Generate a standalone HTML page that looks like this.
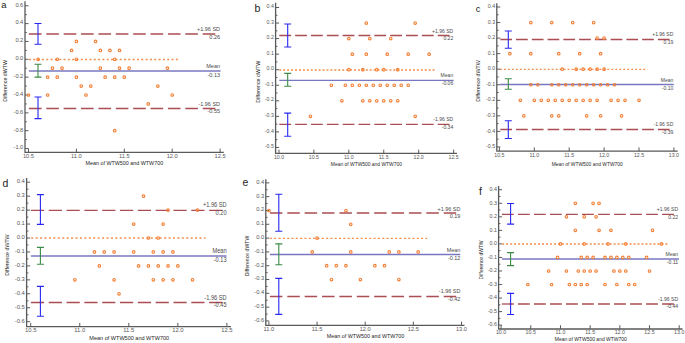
<!DOCTYPE html>
<html><head><meta charset="utf-8"><style>
html,body{margin:0;padding:0;background:#fff;}
svg{display:block;}
text{font-family:"Liberation Sans",sans-serif;}
.tl{fill:#585858;}
.rl{fill:#4a4a4a;}
.tt{fill:#262626;}
.lt{fill:#222;font-size:10.5px;}
</style></head><body>
<svg width="685" height="343" viewBox="0 0 685 343">
<rect width="685" height="343" fill="#fff"/>
<g id="pa"><path d="M25 1.2V152.45H223.8" stroke="#5A5A5A" stroke-width="1.3" fill="none"/><path d="M25 5.75h3.5M25 23.6h3.5M25 41.45h3.5M25 59.3h3.5M25 77.15h3.5M25 95h3.5M25 112.85h3.5M25 130.7h3.5M25 148.55h3.5M25 14.67h1.8M25 32.52h1.8M25 50.38h1.8M25 68.22h1.8M25 86.07h1.8M25 103.92h1.8M25 121.77h1.8M25 139.62h1.8M28.5 152.45v-3.8M76.4 152.45v-3.8M124.3 152.45v-3.8M172.2 152.45v-3.8M220.1 152.45v-3.8" stroke="#5A5A5A" stroke-width="1" fill="none"/><text x="23.3" y="6.59" text-anchor="end" class="tl" style="font-size:5.7px">0.6</text><text x="23.3" y="24.44" text-anchor="end" class="tl" style="font-size:5.7px">0.4</text><text x="23.3" y="42.29" text-anchor="end" class="tl" style="font-size:5.7px">0.2</text><text x="23.3" y="60.14" text-anchor="end" class="tl" style="font-size:5.7px">0.0</text><text x="23.3" y="77.99" text-anchor="end" class="tl" style="font-size:5.7px">-0.2</text><text x="23.3" y="95.84" text-anchor="end" class="tl" style="font-size:5.7px">-0.4</text><text x="23.3" y="113.69" text-anchor="end" class="tl" style="font-size:5.7px">-0.6</text><text x="23.3" y="131.54" text-anchor="end" class="tl" style="font-size:5.7px">-0.8</text><text x="23.3" y="149.39" text-anchor="end" class="tl" style="font-size:5.7px">-1.0</text><text x="28.5" y="158.25" text-anchor="middle" class="tl" style="font-size:5.7px">10.5</text><text x="76.4" y="158.25" text-anchor="middle" class="tl" style="font-size:5.7px">11.0</text><text x="124.3" y="158.25" text-anchor="middle" class="tl" style="font-size:5.7px">11.5</text><text x="172.2" y="158.25" text-anchor="middle" class="tl" style="font-size:5.7px">12.0</text><text x="220.1" y="158.25" text-anchor="middle" class="tl" style="font-size:5.7px">12.5</text><line x1="28.9" y1="34" x2="215.3" y2="34" stroke="#AA4E53" stroke-width="1.3" stroke-dasharray="12.6 4.78"/><line x1="28.9" y1="108.5" x2="215.3" y2="108.5" stroke="#AA4E53" stroke-width="1.3" stroke-dasharray="12.6 4.78"/><line x1="28.95" y1="59.5" x2="178.6" y2="59.5" stroke="#F48D4A" stroke-width="1.3" stroke-dasharray="2 2.32"/><line x1="28.9" y1="71" x2="220.6" y2="71" stroke="#7878C0" stroke-width="1.3"/><path d="M38 23.5V44.3M34.5 23.5h7M34.5 44.3h7" stroke="#2828F0" stroke-width="1.1" fill="none"/><path d="M38 97V118.6M34.5 97h7M34.5 118.6h7" stroke="#2828F0" stroke-width="1.1" fill="none"/><path d="M38 64.3V77.1M34.5 64.3h7M34.5 77.1h7" stroke="#3A8A45" stroke-width="1.1" fill="none"/><g fill="none" stroke="#F37F35" stroke-width="1.1"><circle cx="28.5" cy="95" r="1.3"/><circle cx="38.08" cy="59.3" r="1.3"/><circle cx="47.66" cy="77.15" r="1.3"/><circle cx="47.66" cy="95" r="1.3"/><circle cx="52.45" cy="68.22" r="1.3"/><circle cx="57.24" cy="59.3" r="1.3"/><circle cx="57.24" cy="77.15" r="1.3"/><circle cx="62.03" cy="68.22" r="1.3"/><circle cx="71.61" cy="50.38" r="1.3"/><circle cx="76.4" cy="41.45" r="1.3"/><circle cx="76.4" cy="59.3" r="1.3"/><circle cx="76.4" cy="77.15" r="1.3"/><circle cx="81.19" cy="86.07" r="1.3"/><circle cx="85.98" cy="95" r="1.3"/><circle cx="90.77" cy="86.07" r="1.3"/><circle cx="95.56" cy="41.45" r="1.3"/><circle cx="100.35" cy="50.38" r="1.3"/><circle cx="100.35" cy="68.22" r="1.3"/><circle cx="105.14" cy="77.15" r="1.3"/><circle cx="109.93" cy="50.38" r="1.3"/><circle cx="114.72" cy="59.3" r="1.3"/><circle cx="114.72" cy="77.15" r="1.3"/><circle cx="114.72" cy="130.7" r="1.3"/><circle cx="119.51" cy="50.38" r="1.3"/><circle cx="119.51" cy="68.22" r="1.3"/><circle cx="124.3" cy="77.15" r="1.3"/><circle cx="129.09" cy="68.22" r="1.3"/><circle cx="148.25" cy="103.92" r="1.3"/><circle cx="157.83" cy="86.07" r="1.3"/><circle cx="167.41" cy="68.22" r="1.3"/><circle cx="172.2" cy="95" r="1.3"/></g><text transform="matrix(0.89 0 0 1 220 31.31)" text-anchor="end" class="rl" style="font-size:6.16px">+1.96 SD</text><text transform="matrix(0.89 0 0 1 220 39.01)" text-anchor="end" class="rl" style="font-size:6.16px">0.26</text><text transform="matrix(0.89 0 0 1 220 68.11)" text-anchor="end" class="rl" style="font-size:6.16px">Mean</text><text transform="matrix(0.89 0 0 1 220 76.61)" text-anchor="end" class="rl" style="font-size:6.16px">-0.13</text><text transform="matrix(0.89 0 0 1 220 105.71)" text-anchor="end" class="rl" style="font-size:6.16px">-1.96 SD</text><text transform="matrix(0.89 0 0 1 220 113.21)" text-anchor="end" class="rl" style="font-size:6.16px">-0.55</text><text transform="matrix(0.89 0 0 1 124.3 165.2)" text-anchor="middle" class="tt" style="font-size:6.05px">Mean of WTW500 and WTW700</text><text transform="translate(7.1,80.85) rotate(-90)" text-anchor="middle" class="tt" style="font-size:5.32px">Difference dWTW</text><text x="1.3" y="8.1" class="lt" style="font-size:9.4px">a</text></g><g id="pb"><path d="M275.6 2.7V153.45H457" stroke="#5A5A5A" stroke-width="1.3" fill="none"/><path d="M275.6 7.5h3.5M275.6 23.05h3.5M275.6 38.6h3.5M275.6 54.15h3.5M275.6 69.7h3.5M275.6 85.25h3.5M275.6 100.8h3.5M275.6 116.35h3.5M275.6 131.9h3.5M275.6 147.45h3.5M275.6 15.28h1.8M275.6 30.83h1.8M275.6 46.38h1.8M275.6 61.93h1.8M275.6 77.48h1.8M275.6 93.03h1.8M275.6 108.58h1.8M275.6 124.12h1.8M275.6 139.68h1.8M279 153.45v-3.8M313.92 153.45v-3.8M348.84 153.45v-3.8M383.76 153.45v-3.8M418.68 153.45v-3.8M453.6 153.45v-3.8" stroke="#5A5A5A" stroke-width="1" fill="none"/><text x="273.9" y="8.18" text-anchor="end" class="tl" style="font-size:5.25px">0.4</text><text x="273.9" y="23.73" text-anchor="end" class="tl" style="font-size:5.25px">0.3</text><text x="273.9" y="39.28" text-anchor="end" class="tl" style="font-size:5.25px">0.2</text><text x="273.9" y="54.83" text-anchor="end" class="tl" style="font-size:5.25px">0.1</text><text x="273.9" y="70.38" text-anchor="end" class="tl" style="font-size:5.25px">0.0</text><text x="273.9" y="85.93" text-anchor="end" class="tl" style="font-size:5.25px">-0.1</text><text x="273.9" y="101.48" text-anchor="end" class="tl" style="font-size:5.25px">-0.2</text><text x="273.9" y="117.03" text-anchor="end" class="tl" style="font-size:5.25px">-0.3</text><text x="273.9" y="132.58" text-anchor="end" class="tl" style="font-size:5.25px">-0.4</text><text x="273.9" y="148.13" text-anchor="end" class="tl" style="font-size:5.25px">-0.5</text><text x="279" y="158.7" text-anchor="middle" class="tl" style="font-size:5.25px">10.0</text><text x="313.92" y="158.7" text-anchor="middle" class="tl" style="font-size:5.25px">10.5</text><text x="348.84" y="158.7" text-anchor="middle" class="tl" style="font-size:5.25px">11.0</text><text x="383.76" y="158.7" text-anchor="middle" class="tl" style="font-size:5.25px">11.5</text><text x="418.68" y="158.7" text-anchor="middle" class="tl" style="font-size:5.25px">12.0</text><text x="453.6" y="158.7" text-anchor="middle" class="tl" style="font-size:5.25px">12.5</text><line x1="279.3" y1="35.5" x2="449.5" y2="35.5" stroke="#AA4E53" stroke-width="1.3" stroke-dasharray="11.8 4.04"/><line x1="279.3" y1="124.4" x2="449.5" y2="124.4" stroke="#AA4E53" stroke-width="1.3" stroke-dasharray="11.8 4.04"/><line x1="279.3" y1="70" x2="435.8" y2="70" stroke="#F48D4A" stroke-width="1.3" stroke-dasharray="2 1.93"/><line x1="279.3" y1="80.35" x2="453.6" y2="80.35" stroke="#7878C0" stroke-width="1.3"/><path d="M287.7 24V47M284.2 24h7M284.2 47h7" stroke="#2828F0" stroke-width="1.1" fill="none"/><path d="M287.7 113.1V136.2M284.2 113.1h7M284.2 136.2h7" stroke="#2828F0" stroke-width="1.1" fill="none"/><path d="M287.7 73.4V86.3M284.2 73.4h7M284.2 86.3h7" stroke="#3A8A45" stroke-width="1.1" fill="none"/><g fill="none" stroke="#F37F35" stroke-width="1.1"><circle cx="366.3" cy="23.05" r="1.3"/><circle cx="415.19" cy="23.05" r="1.3"/><circle cx="348.84" cy="38.6" r="1.3"/><circle cx="369.79" cy="38.6" r="1.3"/><circle cx="390.74" cy="38.6" r="1.3"/><circle cx="352.33" cy="54.15" r="1.3"/><circle cx="366.3" cy="54.15" r="1.3"/><circle cx="387.25" cy="54.15" r="1.3"/><circle cx="408.2" cy="54.15" r="1.3"/><circle cx="429.16" cy="54.15" r="1.3"/><circle cx="348.84" cy="69.7" r="1.3"/><circle cx="362.81" cy="69.7" r="1.3"/><circle cx="376.78" cy="69.7" r="1.3"/><circle cx="383.76" cy="69.7" r="1.3"/><circle cx="397.73" cy="69.7" r="1.3"/><circle cx="331.38" cy="85.25" r="1.3"/><circle cx="345.35" cy="85.25" r="1.3"/><circle cx="352.33" cy="85.25" r="1.3"/><circle cx="359.32" cy="85.25" r="1.3"/><circle cx="366.3" cy="85.25" r="1.3"/><circle cx="373.28" cy="85.25" r="1.3"/><circle cx="380.27" cy="85.25" r="1.3"/><circle cx="387.25" cy="85.25" r="1.3"/><circle cx="394.24" cy="85.25" r="1.3"/><circle cx="401.22" cy="85.25" r="1.3"/><circle cx="408.2" cy="85.25" r="1.3"/><circle cx="341.86" cy="100.8" r="1.3"/><circle cx="362.81" cy="100.8" r="1.3"/><circle cx="369.79" cy="100.8" r="1.3"/><circle cx="376.78" cy="100.8" r="1.3"/><circle cx="383.76" cy="100.8" r="1.3"/><circle cx="390.74" cy="100.8" r="1.3"/><circle cx="397.73" cy="100.8" r="1.3"/><circle cx="310.43" cy="116.35" r="1.3"/><circle cx="415.19" cy="116.35" r="1.3"/></g><text transform="matrix(0.89 0 0 1 453.2 32.52)" text-anchor="end" class="rl" style="font-size:5.66px">+1.96 SD</text><text transform="matrix(0.89 0 0 1 453.2 40.42)" text-anchor="end" class="rl" style="font-size:5.66px">0.22</text><text transform="matrix(0.89 0 0 1 453.2 77.32)" text-anchor="end" class="rl" style="font-size:5.66px">Mean</text><text transform="matrix(0.89 0 0 1 453.2 85.42)" text-anchor="end" class="rl" style="font-size:5.66px">-0.06</text><text transform="matrix(0.89 0 0 1 453.2 121.22)" text-anchor="end" class="rl" style="font-size:5.66px">-1.96 SD</text><text transform="matrix(0.89 0 0 1 453.2 129.32)" text-anchor="end" class="rl" style="font-size:5.66px">-0.34</text><text transform="matrix(0.89 0 0 1 366.4 165.9)" text-anchor="middle" class="tt" style="font-size:5.54px">Mean of WTW500 and WTW700</text><text transform="translate(260.21,81.65) rotate(-90)" text-anchor="middle" class="tt" style="font-size:5.35px">Difference dWTW</text><text x="254.5" y="11.7" class="lt" style="font-size:10.5px">b</text></g><g id="pc"><path d="M496.8 3.3V151.2H677.7" stroke="#5A5A5A" stroke-width="1.3" fill="none"/><path d="M496.8 7h3.5M496.8 22.55h3.5M496.8 38.1h3.5M496.8 53.65h3.5M496.8 69.2h3.5M496.8 84.75h3.5M496.8 100.3h3.5M496.8 115.85h3.5M496.8 131.4h3.5M496.8 146.95h3.5M496.8 14.78h1.8M496.8 30.33h1.8M496.8 45.88h1.8M496.8 61.43h1.8M496.8 76.98h1.8M496.8 92.53h1.8M496.8 108.08h1.8M496.8 123.62h1.8M496.8 139.18h1.8M499.4 151.2v-3.8M534.3 151.2v-3.8M569.2 151.2v-3.8M604.1 151.2v-3.8M639 151.2v-3.8M673.9 151.2v-3.8" stroke="#5A5A5A" stroke-width="1" fill="none"/><text x="495.1" y="8.18" text-anchor="end" class="tl" style="font-size:5.25px">0.4</text><text x="495.1" y="23.73" text-anchor="end" class="tl" style="font-size:5.25px">0.3</text><text x="495.1" y="39.28" text-anchor="end" class="tl" style="font-size:5.25px">0.2</text><text x="495.1" y="54.83" text-anchor="end" class="tl" style="font-size:5.25px">0.1</text><text x="495.1" y="70.38" text-anchor="end" class="tl" style="font-size:5.25px">0.0</text><text x="495.1" y="85.93" text-anchor="end" class="tl" style="font-size:5.25px">-0.1</text><text x="495.1" y="101.48" text-anchor="end" class="tl" style="font-size:5.25px">-0.2</text><text x="495.1" y="117.03" text-anchor="end" class="tl" style="font-size:5.25px">-0.3</text><text x="495.1" y="132.58" text-anchor="end" class="tl" style="font-size:5.25px">-0.4</text><text x="495.1" y="148.13" text-anchor="end" class="tl" style="font-size:5.25px">-0.5</text><text x="499.4" y="156.6" text-anchor="middle" class="tl" style="font-size:5.25px">10.5</text><text x="534.3" y="156.6" text-anchor="middle" class="tl" style="font-size:5.25px">11.0</text><text x="569.2" y="156.6" text-anchor="middle" class="tl" style="font-size:5.25px">11.5</text><text x="604.1" y="156.6" text-anchor="middle" class="tl" style="font-size:5.25px">12.0</text><text x="639" y="156.6" text-anchor="middle" class="tl" style="font-size:5.25px">12.5</text><text x="673.9" y="156.6" text-anchor="middle" class="tl" style="font-size:5.25px">13.0</text><line x1="500.3" y1="39.5" x2="669.6" y2="39.5" stroke="#AA4E53" stroke-width="1.3" stroke-dasharray="11.7 4.06"/><line x1="500.3" y1="129.5" x2="669.6" y2="129.5" stroke="#AA4E53" stroke-width="1.3" stroke-dasharray="11.7 4.06"/><line x1="499.9" y1="69.4" x2="647.3" y2="69.4" stroke="#F48D4A" stroke-width="1.3" stroke-dasharray="2 1.98"/><line x1="500.3" y1="84.5" x2="673.8" y2="84.5" stroke="#7878C0" stroke-width="1.3"/><path d="M508.3 31V48.2M504.8 31h7M504.8 48.2h7" stroke="#2828F0" stroke-width="1.1" fill="none"/><path d="M508.3 120.8V138.5M504.8 120.8h7M504.8 138.5h7" stroke="#2828F0" stroke-width="1.1" fill="none"/><path d="M508.3 78.8V89.3M504.8 78.8h7M504.8 89.3h7" stroke="#3A8A45" stroke-width="1.1" fill="none"/><g fill="none" stroke="#F37F35" stroke-width="1.1"><circle cx="530.81" cy="22.55" r="1.3"/><circle cx="551.75" cy="22.55" r="1.3"/><circle cx="572.69" cy="22.55" r="1.3"/><circle cx="593.63" cy="22.55" r="1.3"/><circle cx="597.12" cy="38.1" r="1.3"/><circle cx="604.1" cy="38.1" r="1.3"/><circle cx="509.87" cy="53.65" r="1.3"/><circle cx="530.81" cy="53.65" r="1.3"/><circle cx="558.73" cy="53.65" r="1.3"/><circle cx="579.67" cy="53.65" r="1.3"/><circle cx="600.61" cy="53.65" r="1.3"/><circle cx="562.22" cy="69.2" r="1.3"/><circle cx="576.18" cy="69.2" r="1.3"/><circle cx="583.16" cy="69.2" r="1.3"/><circle cx="590.14" cy="69.2" r="1.3"/><circle cx="597.12" cy="69.2" r="1.3"/><circle cx="604.1" cy="69.2" r="1.3"/><circle cx="530.81" cy="84.75" r="1.3"/><circle cx="537.79" cy="84.75" r="1.3"/><circle cx="551.75" cy="84.75" r="1.3"/><circle cx="558.73" cy="84.75" r="1.3"/><circle cx="565.71" cy="84.75" r="1.3"/><circle cx="572.69" cy="84.75" r="1.3"/><circle cx="579.67" cy="84.75" r="1.3"/><circle cx="586.65" cy="84.75" r="1.3"/><circle cx="593.63" cy="84.75" r="1.3"/><circle cx="600.61" cy="84.75" r="1.3"/><circle cx="607.59" cy="84.75" r="1.3"/><circle cx="614.57" cy="84.75" r="1.3"/><circle cx="520.34" cy="100.3" r="1.3"/><circle cx="534.3" cy="100.3" r="1.3"/><circle cx="541.28" cy="100.3" r="1.3"/><circle cx="548.26" cy="100.3" r="1.3"/><circle cx="555.24" cy="100.3" r="1.3"/><circle cx="562.22" cy="100.3" r="1.3"/><circle cx="569.2" cy="100.3" r="1.3"/><circle cx="576.18" cy="100.3" r="1.3"/><circle cx="583.16" cy="100.3" r="1.3"/><circle cx="590.14" cy="100.3" r="1.3"/><circle cx="597.12" cy="100.3" r="1.3"/><circle cx="611.08" cy="100.3" r="1.3"/><circle cx="618.06" cy="100.3" r="1.3"/><circle cx="625.04" cy="100.3" r="1.3"/><circle cx="639" cy="100.3" r="1.3"/><circle cx="523.83" cy="115.85" r="1.3"/><circle cx="551.75" cy="115.85" r="1.3"/><circle cx="558.73" cy="115.85" r="1.3"/><circle cx="586.65" cy="115.85" r="1.3"/><circle cx="600.61" cy="115.85" r="1.3"/><circle cx="621.55" cy="115.85" r="1.3"/></g><text transform="matrix(0.89 0 0 1 673.3 36.22)" text-anchor="end" class="rl" style="font-size:5.66px">+1.96 SD</text><text transform="matrix(0.89 0 0 1 673.3 44.32)" text-anchor="end" class="rl" style="font-size:5.66px">0.19</text><text transform="matrix(0.89 0 0 1 673.3 81.62)" text-anchor="end" class="rl" style="font-size:5.66px">Mean</text><text transform="matrix(0.89 0 0 1 673.3 90.22)" text-anchor="end" class="rl" style="font-size:5.66px">-0.10</text><text transform="matrix(0.89 0 0 1 673.3 126.32)" text-anchor="end" class="rl" style="font-size:5.66px">-1.96 SD</text><text transform="matrix(0.89 0 0 1 673.3 133.92)" text-anchor="end" class="rl" style="font-size:5.66px">-0.39</text><text transform="matrix(0.89 0 0 1 587.2 165.5)" text-anchor="middle" class="tt" style="font-size:5.54px">Mean of WTW500 and WTW700</text><text transform="translate(480.19,81.05) rotate(-90)" text-anchor="middle" class="tt" style="font-size:5.27px">Difference dWTW</text><text x="475.8" y="12.4" class="lt" style="font-size:9.2px">c</text></g><g id="pd"><path d="M26.6 178.1V326.7H231" stroke="#5A5A5A" stroke-width="1.3" fill="none"/><path d="M26.6 182.2h3.5M26.6 196.15h3.5M26.6 210.1h3.5M26.6 224.05h3.5M26.6 238h3.5M26.6 251.95h3.5M26.6 265.9h3.5M26.6 279.85h3.5M26.6 293.8h3.5M26.6 307.75h3.5M26.6 321.7h3.5M26.6 189.18h1.8M26.6 203.12h1.8M26.6 217.07h1.8M26.6 231.03h1.8M26.6 244.97h1.8M26.6 258.93h1.8M26.6 272.88h1.8M26.6 286.82h1.8M26.6 300.77h1.8M26.6 314.73h1.8M30.7 326.7v-3.8M79.75 326.7v-3.8M128.8 326.7v-3.8M177.85 326.7v-3.8M226.9 326.7v-3.8" stroke="#5A5A5A" stroke-width="1" fill="none"/><text x="24.9" y="183.1" text-anchor="end" class="tl" style="font-size:5.859999999999999px">0.4</text><text x="24.9" y="197.05" text-anchor="end" class="tl" style="font-size:5.859999999999999px">0.3</text><text x="24.9" y="211" text-anchor="end" class="tl" style="font-size:5.859999999999999px">0.2</text><text x="24.9" y="224.95" text-anchor="end" class="tl" style="font-size:5.859999999999999px">0.1</text><text x="24.9" y="238.9" text-anchor="end" class="tl" style="font-size:5.859999999999999px">0.0</text><text x="24.9" y="252.85" text-anchor="end" class="tl" style="font-size:5.859999999999999px">-0.1</text><text x="24.9" y="266.8" text-anchor="end" class="tl" style="font-size:5.859999999999999px">-0.2</text><text x="24.9" y="280.75" text-anchor="end" class="tl" style="font-size:5.859999999999999px">-0.3</text><text x="24.9" y="294.7" text-anchor="end" class="tl" style="font-size:5.859999999999999px">-0.4</text><text x="24.9" y="308.65" text-anchor="end" class="tl" style="font-size:5.859999999999999px">-0.5</text><text x="24.9" y="322.6" text-anchor="end" class="tl" style="font-size:5.859999999999999px">-0.6</text><text x="30.7" y="332.05" text-anchor="middle" class="tl" style="font-size:5.859999999999999px">10.5</text><text x="79.75" y="332.05" text-anchor="middle" class="tl" style="font-size:5.859999999999999px">11.0</text><text x="128.8" y="332.05" text-anchor="middle" class="tl" style="font-size:5.859999999999999px">11.5</text><text x="177.85" y="332.05" text-anchor="middle" class="tl" style="font-size:5.859999999999999px">12.0</text><text x="226.9" y="332.05" text-anchor="middle" class="tl" style="font-size:5.859999999999999px">12.5</text><line x1="30.9" y1="210.3" x2="222.3" y2="210.3" stroke="#AA4E53" stroke-width="1.3" stroke-dasharray="13.2 4.62"/><line x1="30.9" y1="302.5" x2="222.3" y2="302.5" stroke="#AA4E53" stroke-width="1.3" stroke-dasharray="13.2 4.62"/><line x1="31.2" y1="238" x2="205.5" y2="238" stroke="#F48D4A" stroke-width="1.3" stroke-dasharray="2 2.43"/><line x1="30.9" y1="256" x2="226.5" y2="256" stroke="#7878C0" stroke-width="1.3"/><path d="M40.4 194.6V224.4M36.9 194.6h7M36.9 224.4h7" stroke="#2828F0" stroke-width="1.1" fill="none"/><path d="M40.4 286.4V316.3M36.9 286.4h7M36.9 316.3h7" stroke="#2828F0" stroke-width="1.1" fill="none"/><path d="M40.4 247.4V264.2M36.9 247.4h7M36.9 264.2h7" stroke="#3A8A45" stroke-width="1.1" fill="none"/><g fill="none" stroke="#F37F35" stroke-width="1.1"><circle cx="143.52" cy="196.15" r="1.3"/><circle cx="168.04" cy="210.1" r="1.3"/><circle cx="197.47" cy="210.1" r="1.3"/><circle cx="133.71" cy="224.05" r="1.3"/><circle cx="163.13" cy="224.05" r="1.3"/><circle cx="148.42" cy="238" r="1.3"/><circle cx="158.23" cy="238" r="1.3"/><circle cx="94.47" cy="251.95" r="1.3"/><circle cx="104.27" cy="251.95" r="1.3"/><circle cx="114.08" cy="251.95" r="1.3"/><circle cx="133.71" cy="251.95" r="1.3"/><circle cx="153.32" cy="251.95" r="1.3"/><circle cx="163.13" cy="251.95" r="1.3"/><circle cx="172.94" cy="251.95" r="1.3"/><circle cx="99.37" cy="265.9" r="1.3"/><circle cx="138.61" cy="265.9" r="1.3"/><circle cx="148.42" cy="265.9" r="1.3"/><circle cx="158.23" cy="265.9" r="1.3"/><circle cx="168.04" cy="265.9" r="1.3"/><circle cx="177.85" cy="265.9" r="1.3"/><circle cx="74.84" cy="279.85" r="1.3"/><circle cx="114.08" cy="279.85" r="1.3"/><circle cx="153.32" cy="279.85" r="1.3"/><circle cx="163.13" cy="279.85" r="1.3"/><circle cx="172.94" cy="279.85" r="1.3"/><circle cx="192.57" cy="279.85" r="1.3"/><circle cx="118.99" cy="293.8" r="1.3"/></g><text transform="matrix(0.89 0 0 1 226.6 206.57)" text-anchor="end" class="rl" style="font-size:6.34px">+1.96 SD</text><text transform="matrix(0.89 0 0 1 226.6 214.87)" text-anchor="end" class="rl" style="font-size:6.34px">0.20</text><text transform="matrix(0.89 0 0 1 226.6 252.77)" text-anchor="end" class="rl" style="font-size:6.34px">Mean</text><text transform="matrix(0.89 0 0 1 226.6 262.17)" text-anchor="end" class="rl" style="font-size:6.34px">-0.13</text><text transform="matrix(0.89 0 0 1 226.6 299.57)" text-anchor="end" class="rl" style="font-size:6.34px">-1.96 SD</text><text transform="matrix(0.89 0 0 1 226.6 307.27)" text-anchor="end" class="rl" style="font-size:6.34px">-0.45</text><text transform="matrix(0.89 0 0 1 129.2 339.7)" text-anchor="middle" class="tt" style="font-size:6.23px">Mean of WTW500 and WTW700</text><text transform="translate(8.74,255.15) rotate(-90)" text-anchor="middle" class="tt" style="font-size:5.27px">Difference dWTW</text><text x="2.5" y="186.6" class="lt" style="font-size:10.5px">d</text></g><g id="pe"><path d="M265.8 179.3V325.45H464.5" stroke="#5A5A5A" stroke-width="1.3" fill="none"/><path d="M265.8 182.86h3.5M265.8 196.67h3.5M265.8 210.48h3.5M265.8 224.29h3.5M265.8 238.1h3.5M265.8 251.91h3.5M265.8 265.72h3.5M265.8 279.53h3.5M265.8 293.34h3.5M265.8 307.15h3.5M265.8 320.96h3.5M265.8 189.76h1.8M265.8 203.57h1.8M265.8 217.38h1.8M265.8 231.19h1.8M265.8 245h1.8M265.8 258.81h1.8M265.8 272.62h1.8M265.8 286.44h1.8M265.8 300.25h1.8M265.8 314.06h1.8M268.9 325.45v-3.8M317.05 325.45v-3.8M365.2 325.45v-3.8M413.35 325.45v-3.8M461.5 325.45v-3.8" stroke="#5A5A5A" stroke-width="1" fill="none"/><text x="264.1" y="183.7" text-anchor="end" class="tl" style="font-size:5.6899999999999995px">0.4</text><text x="264.1" y="197.51" text-anchor="end" class="tl" style="font-size:5.6899999999999995px">0.3</text><text x="264.1" y="211.32" text-anchor="end" class="tl" style="font-size:5.6899999999999995px">0.2</text><text x="264.1" y="225.13" text-anchor="end" class="tl" style="font-size:5.6899999999999995px">0.1</text><text x="264.1" y="238.94" text-anchor="end" class="tl" style="font-size:5.6899999999999995px">0.0</text><text x="264.1" y="252.75" text-anchor="end" class="tl" style="font-size:5.6899999999999995px">-0.1</text><text x="264.1" y="266.56" text-anchor="end" class="tl" style="font-size:5.6899999999999995px">-0.2</text><text x="264.1" y="280.37" text-anchor="end" class="tl" style="font-size:5.6899999999999995px">-0.3</text><text x="264.1" y="294.18" text-anchor="end" class="tl" style="font-size:5.6899999999999995px">-0.4</text><text x="264.1" y="307.99" text-anchor="end" class="tl" style="font-size:5.6899999999999995px">-0.5</text><text x="264.1" y="321.8" text-anchor="end" class="tl" style="font-size:5.6899999999999995px">-0.6</text><text x="268.9" y="330.5" text-anchor="middle" class="tl" style="font-size:5.6899999999999995px">11.0</text><text x="317.05" y="330.5" text-anchor="middle" class="tl" style="font-size:5.6899999999999995px">11.5</text><text x="365.2" y="330.5" text-anchor="middle" class="tl" style="font-size:5.6899999999999995px">12.0</text><text x="413.35" y="330.5" text-anchor="middle" class="tl" style="font-size:5.6899999999999995px">12.5</text><text x="461.5" y="330.5" text-anchor="middle" class="tl" style="font-size:5.6899999999999995px">13.0</text><line x1="269.9" y1="213" x2="456.2" y2="213" stroke="#AA4E53" stroke-width="1.3" stroke-dasharray="12.5 4.88"/><line x1="269.9" y1="296.5" x2="456.2" y2="296.5" stroke="#AA4E53" stroke-width="1.3" stroke-dasharray="12.5 4.88"/><line x1="269.9" y1="238.45" x2="427.2" y2="238.45" stroke="#F48D4A" stroke-width="1.3" stroke-dasharray="2 2.32"/><line x1="269.9" y1="254.5" x2="460.2" y2="254.5" stroke="#7878C0" stroke-width="1.3"/><path d="M278.8 194.2V231.2M275.3 194.2h7M275.3 231.2h7" stroke="#2828F0" stroke-width="1.1" fill="none"/><path d="M278.8 278.4V314.4M275.3 278.4h7M275.3 314.4h7" stroke="#2828F0" stroke-width="1.1" fill="none"/><path d="M278.8 243.9V264.8M275.3 243.9h7M275.3 264.8h7" stroke="#3A8A45" stroke-width="1.1" fill="none"/><g fill="none" stroke="#F37F35" stroke-width="1.1"><circle cx="268.9" cy="210.48" r="1.3"/><circle cx="345.94" cy="210.48" r="1.3"/><circle cx="350.75" cy="224.29" r="1.3"/><circle cx="317.05" cy="238.1" r="1.3"/><circle cx="312.23" cy="251.91" r="1.3"/><circle cx="350.75" cy="251.91" r="1.3"/><circle cx="389.27" cy="251.91" r="1.3"/><circle cx="398.9" cy="251.91" r="1.3"/><circle cx="418.17" cy="251.91" r="1.3"/><circle cx="326.68" cy="265.72" r="1.3"/><circle cx="336.31" cy="265.72" r="1.3"/><circle cx="345.94" cy="265.72" r="1.3"/><circle cx="374.83" cy="265.72" r="1.3"/><circle cx="384.46" cy="265.72" r="1.3"/><circle cx="331.5" cy="279.53" r="1.3"/><circle cx="360.38" cy="279.53" r="1.3"/><circle cx="398.9" cy="279.53" r="1.3"/></g><text transform="matrix(0.89 0 0 1 460.4 210.5)" text-anchor="end" class="rl" style="font-size:6.15px">+1.96 SD</text><text transform="matrix(0.89 0 0 1 460.4 217.7)" text-anchor="end" class="rl" style="font-size:6.15px">0.19</text><text transform="matrix(0.89 0 0 1 460.4 251.6)" text-anchor="end" class="rl" style="font-size:6.15px">Mean</text><text transform="matrix(0.89 0 0 1 460.4 260)" text-anchor="end" class="rl" style="font-size:6.15px">-0.12</text><text transform="matrix(0.89 0 0 1 460.4 293.2)" text-anchor="end" class="rl" style="font-size:6.15px">-1.96 SD</text><text transform="matrix(0.89 0 0 1 460.4 301.1)" text-anchor="end" class="rl" style="font-size:6.15px">-0.42</text><text transform="matrix(0.89 0 0 1 365.5 337.8)" text-anchor="middle" class="tt" style="font-size:6.04px">Mean of WTW500 and WTW700</text><text transform="translate(249.35,256) rotate(-90)" text-anchor="middle" class="tt" style="font-size:5.15px">Difference dWTW</text><text x="242.6" y="185.8" class="lt" style="font-size:10.5px">e</text></g><g id="pf"><path d="M498.6 186V329H682.6" stroke="#5A5A5A" stroke-width="1.3" fill="none"/><path d="M498.6 189.74h3.5M498.6 203.28h3.5M498.6 216.82h3.5M498.6 230.36h3.5M498.6 243.9h3.5M498.6 257.44h3.5M498.6 270.98h3.5M498.6 284.52h3.5M498.6 298.06h3.5M498.6 311.6h3.5M498.6 325.14h3.5M498.6 196.51h1.8M498.6 210.05h1.8M498.6 223.59h1.8M498.6 237.13h1.8M498.6 250.67h1.8M498.6 264.21h1.8M498.6 277.75h1.8M498.6 291.29h1.8M498.6 304.83h1.8M498.6 318.37h1.8M501.1 329v-3.8M530.78 329v-3.8M560.47 329v-3.8M590.15 329v-3.8M619.84 329v-3.8M649.52 329v-3.8M679.21 329v-3.8" stroke="#5A5A5A" stroke-width="1" fill="none"/><text x="496.9" y="191.05" text-anchor="end" class="tl" style="font-size:5.33px">0.4</text><text x="496.9" y="204.59" text-anchor="end" class="tl" style="font-size:5.33px">0.3</text><text x="496.9" y="218.13" text-anchor="end" class="tl" style="font-size:5.33px">0.2</text><text x="496.9" y="231.67" text-anchor="end" class="tl" style="font-size:5.33px">0.1</text><text x="496.9" y="245.21" text-anchor="end" class="tl" style="font-size:5.33px">0.0</text><text x="496.9" y="258.75" text-anchor="end" class="tl" style="font-size:5.33px">-0.1</text><text x="496.9" y="272.29" text-anchor="end" class="tl" style="font-size:5.33px">-0.2</text><text x="496.9" y="285.83" text-anchor="end" class="tl" style="font-size:5.33px">-0.3</text><text x="496.9" y="299.37" text-anchor="end" class="tl" style="font-size:5.33px">-0.4</text><text x="496.9" y="312.91" text-anchor="end" class="tl" style="font-size:5.33px">-0.5</text><text x="496.9" y="326.45" text-anchor="end" class="tl" style="font-size:5.33px">-0.6</text><text x="501.1" y="334.45" text-anchor="middle" class="tl" style="font-size:5.33px">10.0</text><text x="530.78" y="334.45" text-anchor="middle" class="tl" style="font-size:5.33px">10.5</text><text x="560.47" y="334.45" text-anchor="middle" class="tl" style="font-size:5.33px">11.0</text><text x="590.15" y="334.45" text-anchor="middle" class="tl" style="font-size:5.33px">11.5</text><text x="619.84" y="334.45" text-anchor="middle" class="tl" style="font-size:5.33px">12.0</text><text x="649.52" y="334.45" text-anchor="middle" class="tl" style="font-size:5.33px">12.5</text><text x="679.21" y="334.45" text-anchor="middle" class="tl" style="font-size:5.33px">13.0</text><line x1="501.9" y1="214.4" x2="673.9" y2="214.4" stroke="#AA4E53" stroke-width="1.3" stroke-dasharray="11.8 4.22"/><line x1="501.9" y1="304" x2="673.9" y2="304" stroke="#AA4E53" stroke-width="1.3" stroke-dasharray="11.8 4.22"/><line x1="502.2" y1="244" x2="668.2" y2="244" stroke="#F48D4A" stroke-width="1.3" stroke-dasharray="2 1.98"/><line x1="501.9" y1="259" x2="679" y2="259" stroke="#7878C0" stroke-width="1.3"/><path d="M510.6 203.5V224.1M507.1 203.5h7M507.1 224.1h7" stroke="#2828F0" stroke-width="1.1" fill="none"/><path d="M510.6 293.4V314.5M507.1 293.4h7M507.1 314.5h7" stroke="#2828F0" stroke-width="1.1" fill="none"/><path d="M510.6 252.6V265.6M507.1 252.6h7M507.1 265.6h7" stroke="#3A8A45" stroke-width="1.1" fill="none"/><g fill="none" stroke="#F37F35" stroke-width="1.1"><circle cx="575.31" cy="203.28" r="1.3"/><circle cx="593.12" cy="203.28" r="1.3"/><circle cx="599.06" cy="203.28" r="1.3"/><circle cx="566.41" cy="216.82" r="1.3"/><circle cx="584.22" cy="216.82" r="1.3"/><circle cx="596.09" cy="216.82" r="1.3"/><circle cx="575.31" cy="230.36" r="1.3"/><circle cx="599.06" cy="230.36" r="1.3"/><circle cx="610.93" cy="230.36" r="1.3"/><circle cx="652.49" cy="230.36" r="1.3"/><circle cx="560.47" cy="243.9" r="1.3"/><circle cx="584.22" cy="243.9" r="1.3"/><circle cx="607.97" cy="243.9" r="1.3"/><circle cx="625.78" cy="243.9" r="1.3"/><circle cx="661.4" cy="243.9" r="1.3"/><circle cx="557.5" cy="257.44" r="1.3"/><circle cx="581.25" cy="257.44" r="1.3"/><circle cx="587.19" cy="257.44" r="1.3"/><circle cx="593.12" cy="257.44" r="1.3"/><circle cx="605" cy="257.44" r="1.3"/><circle cx="610.93" cy="257.44" r="1.3"/><circle cx="616.87" cy="257.44" r="1.3"/><circle cx="622.81" cy="257.44" r="1.3"/><circle cx="628.75" cy="257.44" r="1.3"/><circle cx="646.56" cy="257.44" r="1.3"/><circle cx="548.6" cy="270.98" r="1.3"/><circle cx="566.41" cy="270.98" r="1.3"/><circle cx="578.28" cy="270.98" r="1.3"/><circle cx="584.22" cy="270.98" r="1.3"/><circle cx="590.15" cy="270.98" r="1.3"/><circle cx="596.09" cy="270.98" r="1.3"/><circle cx="613.9" cy="270.98" r="1.3"/><circle cx="619.84" cy="270.98" r="1.3"/><circle cx="625.78" cy="270.98" r="1.3"/><circle cx="649.52" cy="270.98" r="1.3"/><circle cx="527.82" cy="284.52" r="1.3"/><circle cx="551.56" cy="284.52" r="1.3"/><circle cx="569.38" cy="284.52" r="1.3"/><circle cx="575.31" cy="284.52" r="1.3"/><circle cx="581.25" cy="284.52" r="1.3"/><circle cx="587.19" cy="284.52" r="1.3"/><circle cx="605" cy="284.52" r="1.3"/><circle cx="616.87" cy="284.52" r="1.3"/><circle cx="628.75" cy="284.52" r="1.3"/><circle cx="634.68" cy="284.52" r="1.3"/></g><text transform="matrix(0.89 0 0 1 678.2 211.16)" text-anchor="end" class="rl" style="font-size:5.75px">+1.96 SD</text><text transform="matrix(0.89 0 0 1 678.2 219.36)" text-anchor="end" class="rl" style="font-size:5.75px">0.22</text><text transform="matrix(0.89 0 0 1 678.2 255.76)" text-anchor="end" class="rl" style="font-size:5.75px">Mean</text><text transform="matrix(0.89 0 0 1 678.2 264.46)" text-anchor="end" class="rl" style="font-size:5.75px">-0.11</text><text transform="matrix(0.89 0 0 1 678.2 300.96)" text-anchor="end" class="rl" style="font-size:5.75px">-1.96 SD</text><text transform="matrix(0.89 0 0 1 678.2 308.16)" text-anchor="end" class="rl" style="font-size:5.75px">-0.44</text><text transform="matrix(0.89 0 0 1 590.8 341.3)" text-anchor="middle" class="tt" style="font-size:5.63px">Mean of WTW500 and WTW700</text><text transform="translate(482.57,259.95) rotate(-90)" text-anchor="middle" class="tt" style="font-size:4.94px">Difference dWTW</text><text x="479" y="194.7" class="lt" style="font-size:10.5px">f</text></g>
</svg>
</body></html>
